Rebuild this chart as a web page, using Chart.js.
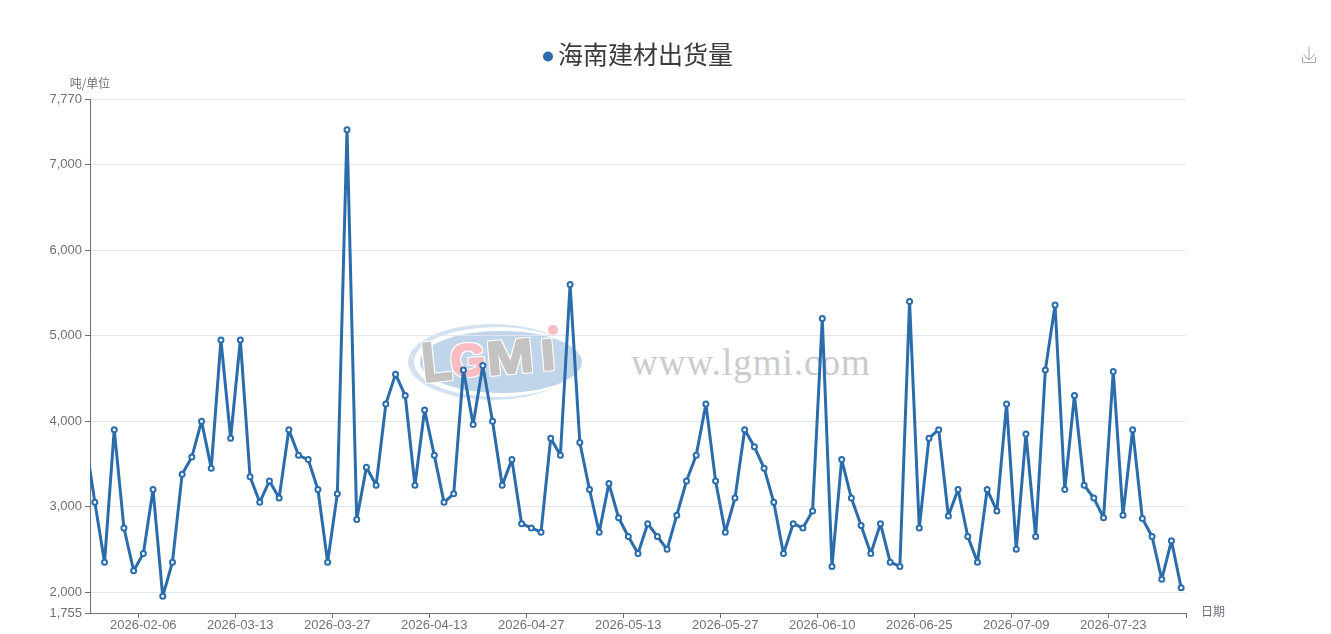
<!DOCTYPE html>
<html lang="zh-CN">
<head>
<meta charset="utf-8">
<title>海南建材出货量</title>
<script src="https://cdn.jsdelivr.net/npm/chart.js@4"></script>
<style>
    html, body { margin: 0; padding: 0; background: #fff; overflow: hidden; }
    #wrap { position: relative; width: 1331px; height: 634px; }
    #watermark, #saveIcon { position: absolute; left: 0; top: 0; }
    #shipChart { position: absolute; left: 0; top: 0; }
</style>
</head>
<body>
<div id="wrap">
    <!-- watermark sits behind the transparent canvas -->
    <svg id="watermark" width="1331" height="634">
        <defs>
            <filter id="fatLetters" x="-10%" y="-10%" width="120%" height="120%">
                <feMorphology in="SourceGraphic" operator="dilate" radius="1.3" result="fat"/>
                <feMorphology in="SourceAlpha" operator="dilate" radius="2.1" result="halo"/>
                <feFlood flood-color="#fff"/>
                <feComposite in2="halo" operator="in" result="white"/>
                <feMerge><feMergeNode in="white"/><feMergeNode in="fat"/></feMerge>
            </filter>
        </defs>
        <ellipse cx="492" cy="362" rx="84" ry="38" fill="#d3e2f1"/>
        <ellipse cx="497" cy="362" rx="83" ry="35" fill="#fff"/>
        <ellipse cx="501" cy="362" rx="81" ry="31" fill="#c0d5ea"/>
        <g font-family="Liberation Sans" font-weight="bold" filter="url(#fatLetters)">
            <text font-size="56" fill="#c5c3c1" transform="translate(424 382) rotate(-6) scale(0.85 1)">L</text>
            <text font-size="45" fill="#f8bcc2" transform="translate(452 377) rotate(-5)">G</text>
            <text font-size="47" fill="#c5c3c1" transform="translate(488 375) rotate(-5) scale(1.2 1)">M</text>
            <text font-size="43" fill="#c5c3c1" transform="translate(542 370) rotate(-5) scale(1.2 1)">I</text>
        </g>
        <circle cx="553" cy="330" r="5" fill="#f8bcc2"/>
        <text x="631" y="375" font-family="Liberation Serif" font-size="37" letter-spacing="1" fill="#cbcbcb">www.lgmi.com</text>
    </svg>
    <canvas id="shipChart" width="1331" height="634"></canvas>
    <svg id="saveIcon" width="1331" height="634" fill="none" stroke="#a6a6a6" stroke-width="1">
        <path d="M1309 46.5V60M1303.5 54.5L1309 60L1314.5 54.5M1302.5 57V62.5H1315.5V57"/>
    </svg>
</div>
<script>
// Dates on the category axis, first one is only there for the clipped line start
const categories = [
    '2026-01-29', '2026-01-30', '2026-02-02', '2026-02-03', '2026-02-04', '2026-02-05', '2026-02-06',
    '2026-03-02', '2026-03-03', '2026-03-04', '2026-03-05', '2026-03-06', '2026-03-09', '2026-03-10', '2026-03-11', '2026-03-12', '2026-03-13',
    '2026-03-16', '2026-03-17', '2026-03-18', '2026-03-19', '2026-03-20', '2026-03-23', '2026-03-24', '2026-03-25', '2026-03-26', '2026-03-27',
    '2026-03-30', '2026-03-31', '2026-04-01', '2026-04-02', '2026-04-03', '2026-04-07', '2026-04-08', '2026-04-09', '2026-04-10', '2026-04-13',
    '2026-04-14', '2026-04-15', '2026-04-16', '2026-04-17', '2026-04-20', '2026-04-21', '2026-04-22', '2026-04-23', '2026-04-24', '2026-04-27',
    '2026-04-28', '2026-04-29', '2026-04-30', '2026-05-05', '2026-05-06', '2026-05-07', '2026-05-08', '2026-05-11', '2026-05-12', '2026-05-13',
    '2026-05-14', '2026-05-15', '2026-05-18', '2026-05-19', '2026-05-20', '2026-05-21', '2026-05-22', '2026-05-25', '2026-05-26', '2026-05-27',
    '2026-05-28', '2026-05-29', '2026-06-01', '2026-06-02', '2026-06-03', '2026-06-04', '2026-06-05', '2026-06-08', '2026-06-09', '2026-06-10',
    '2026-06-11', '2026-06-12', '2026-06-15', '2026-06-16', '2026-06-17', '2026-06-18', '2026-06-22', '2026-06-23', '2026-06-24', '2026-06-25',
    '2026-06-26', '2026-06-29', '2026-06-30', '2026-07-01', '2026-07-02', '2026-07-03', '2026-07-06', '2026-07-07', '2026-07-08', '2026-07-09',
    '2026-07-10', '2026-07-13', '2026-07-14', '2026-07-15', '2026-07-16', '2026-07-17', '2026-07-20', '2026-07-21', '2026-07-22', '2026-07-23',
    '2026-07-24', '2026-07-27', '2026-07-28', '2026-07-29', '2026-07-30', '2026-07-31', '2026-08-03'
];

const shipments = [
    3800, 3050, 2350, 3900, 2750, 2250, 2450,
    3200, 1950, 2350, 3380, 3580, 4000, 3450, 4950, 3800, 4950,
    3350, 3050, 3300, 3100, 3900, 3600, 3550, 3200, 2350, 3150,
    7410, 2850, 3460, 3250, 4200, 4550, 4300, 3250, 4130, 3600,
    3050, 3150, 4600, 3960, 4650, 4000, 3250, 3550, 2800, 2750,
    2700, 3800, 3600, 5600, 3750, 3200, 2700, 3270, 2870, 2650,
    2450, 2800, 2650, 2500, 2900, 3300, 3600, 4200, 3300, 2700,
    3100, 3900, 3700, 3450, 3050, 2450, 2800, 2750, 2950, 5200,
    2300, 3550, 3100, 2780, 2450, 2800, 2350, 2300, 5400, 2750,
    3800, 3900, 2890, 3200, 2650, 2350, 3200, 2950, 4200, 2500,
    3850, 2650, 4600, 5360, 3200, 4300, 3250, 3100, 2870, 4580,
    2900, 3900, 2860, 2650, 2150, 2600, 2050
];

const yTicks = [1755, 2000, 3000, 4000, 5000, 6000, 7000, 7770];

const chartTitle = '海南建材出货量';
const yUnit = '吨/单位';
const xName = '日期';

const BLUE = '#2b6cab';
const AXIS = '#6e7079';
const GRID = '#e0e6f1';
const FONT = '"Noto Sans CJK SC", "Noto Sans", sans-serif';
const TICK_FONT = '"Liberation Sans", sans-serif';

// Title with its dot and the two axis names
const headerPlugin = {
    id: 'header',
    afterDraw(chart) {
        const { ctx, chartArea } = chart;
        ctx.save();
        ctx.textBaseline = 'middle';
        ctx.fillStyle = BLUE;
        ctx.beginPath();
        ctx.arc(548, 56.5, 5, 0, Math.PI * 2);
        ctx.fill();
        ctx.fillStyle = '#3a3a3a';
        ctx.textAlign = 'left';
        ctx.font = '25px ' + FONT;
        ctx.fillText(chartTitle, 558, 54);
        ctx.fillStyle = AXIS;
        ctx.font = '12px ' + FONT;
        ctx.textAlign = 'center';
        ctx.fillText(yUnit, chartArea.left, chartArea.top - 16);
        ctx.textAlign = 'left';
        ctx.fillText(xName, chartArea.right + 15, chartArea.bottom - 2);
        ctx.restore();
    }
};

function createShipmentChart() {
    const ctx = document.getElementById('shipChart').getContext('2d');
    new Chart(ctx, {
        type: 'line',
        data: {
            labels: categories,
            datasets: [{
                label: chartTitle,
                data: shipments,
                borderColor: BLUE,
                borderWidth: 3,
                borderJoinStyle: 'bevel',
                backgroundColor: '#fff',
                pointBackgroundColor: '#fff',
                pointBorderColor: BLUE,
                pointBorderWidth: 2,
                pointRadius: 2.5,
                tension: 0,
                clip: 0
            }]
        },
        options: {
            responsive: false,
            animation: false,
            layout: { padding: { top: 99, right: 145, bottom: 0, left: 0 } },
            plugins: {
                legend: { display: false },
                tooltip: { enabled: false }
            },
            scales: {
                x: {
                    type: 'category',
                    min: categories[1],
                    offset: true,
                    afterFit(scale) { scale.height = 21; },
                    border: { color: AXIS },
                    grid: {
                        offset: true,
                        drawOnChartArea: false,
                        tickLength: 5,
                        tickColor: c => (c.index === undefined || c.index % 10 === 5) ? AXIS : 'transparent'
                    },
                    ticks: {
                        autoSkip: false,
                        maxRotation: 0,
                        padding: 0,
                        color: AXIS,
                        font: { family: TICK_FONT, size: 13 },
                        callback(value, index) {
                            return index % 10 === 5 ? this.getLabelForValue(value) : '';
                        }
                    }
                },
                y: {
                    min: 1755,
                    max: 7770,
                    afterFit(scale) { scale.width = 90; },
                    afterBuildTicks(scale) { scale.ticks = yTicks.map(v => ({ value: v })); },
                    border: { color: AXIS },
                    grid: {
                        color: c => c.tick && c.tick.value === 1755 ? 'transparent' : GRID,
                        tickColor: AXIS,
                        tickLength: 5
                    },
                    ticks: {
                        padding: 3,
                        color: AXIS,
                        font: { family: TICK_FONT, size: 13 },
                        callback: v => v.toLocaleString('en-US')
                    }
                }
            }
        },
        plugins: [headerPlugin]
    });
}

document.addEventListener('DOMContentLoaded', createShipmentChart);
</script>
</body>
</html>
